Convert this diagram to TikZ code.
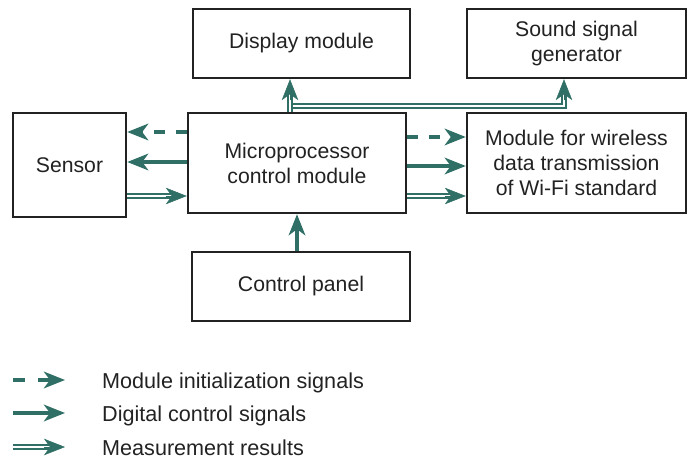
\documentclass[tikz,border=0pt]{standalone}
\usepackage{fontspec}
\setmainfont{Liberation Sans}
\usetikzlibrary{arrows.meta,calc}
\definecolor{sig}{HTML}{2F6F65}
\definecolor{ink}{HTML}{222222}
\tikzset{
  box/.style={draw=ink, line width=2.4pt, fill=white, align=center, text=ink,
    font=\fontsize{21.2}{25}\selectfont, inner sep=0pt},
  legtext/.style={text=ink, font=\fontsize{21.6}{25}\selectfont, inner sep=0pt, anchor=base west},
  headtip/.style={-{Stealth[length=21pt,width=16.5pt,inset=6pt]}},
  ctrl/.style={draw=sig, line width=4pt, headtip},
  init/.style={ctrl, dash pattern=on 11pt off 11pt},
  measline/.style={draw=sig, line width=1.5pt, double=white, double distance=2.2pt, shorten >=15pt},
  meastip/.style={draw=sig, fill=sig, line width=0.5pt, headtip}
}
\newcommand\measarrow[2]{%
  \coordinate (ma) at (#1);
  \coordinate (mb) at (#2);
  \draw[measline] (ma) -- (mb);
  \draw[meastip] ($(mb)!21pt!(ma)$) -- (mb);
}
\begin{document}
\begin{tikzpicture}[x=1pt,y=-1pt]
\useasboundingbox (0,0) rectangle (689,463);

% boxes
\node[box, minimum width=217pt, minimum height=69pt] (disp) at (301.5,43.5) {Display module};
\node[box, minimum width=219pt, minimum height=69pt] (sound) at (576.5,43.5) {Sound signal\\generator};
\node[box, minimum width=113pt, minimum height=104pt] (sensor) at (69.5,165) {Sensor};
\node[box, minimum width=218pt, minimum height=100pt] (mcu) at (297,163) {Microprocessor\\control module};
\node[box, minimum width=219pt, minimum height=100pt] (wifi) at (576.5,163) {Module for wireless\\data transmission\\of Wi-Fi standard};
\node[box, minimum width=218pt, minimum height=69pt] (panel) at (301,286.5) {Control panel};

% sensor <-> mcu
\draw[init] (mcu.west |- 0,132) -- (sensor.east |- 0,132);
\draw[ctrl] (mcu.west |- 0,162) -- (sensor.east |- 0,162);
\measarrow{sensor.east |- 0,196}{mcu.west |- 0,196}

% mcu -> wifi
\draw[init] (mcu.east |- 0,137) -- (wifi.west |- 0,137);
\draw[ctrl] (mcu.east |- 0,166) -- (wifi.west |- 0,166);
\measarrow{mcu.east |- 0,196}{wifi.west |- 0,196}

% panel -> mcu
\draw[ctrl] (panel.north -| 297,0) -- (mcu.south -| 297,0);

% mcu -> display, sound
\coordinate (jn) at (290,106);
\coordinate (sc) at (564,106);
\coordinate (st) at (sound.south -| sc);
\draw[measline] (jn) -- (sc) -- (st);
\draw[meastip] ($(st)!21pt!(sc)$) -- (st);
\measarrow{mcu.north -| jn}{disp.south -| jn}

% legend
\coordinate (la1) at (13,380); \coordinate (lb1) at (65,380);
\coordinate (la2) at (13,413); \coordinate (lb2) at (65,413);
\coordinate (la3) at (13,447); \coordinate (lb3) at (65,447);
\draw[init, dash pattern=on 12pt off 13pt] (la1) -- (lb1);
\draw[ctrl] (la2) -- (lb2);
\measarrow{la3}{lb3}
\node[legtext] (t1) at (102,388) {Module initialization signals};
\node[legtext] (t2) at (102,421) {Digital control signals};
\node[legtext] (t3) at (102,455) {Measurement results};
\end{tikzpicture}
\end{document}
